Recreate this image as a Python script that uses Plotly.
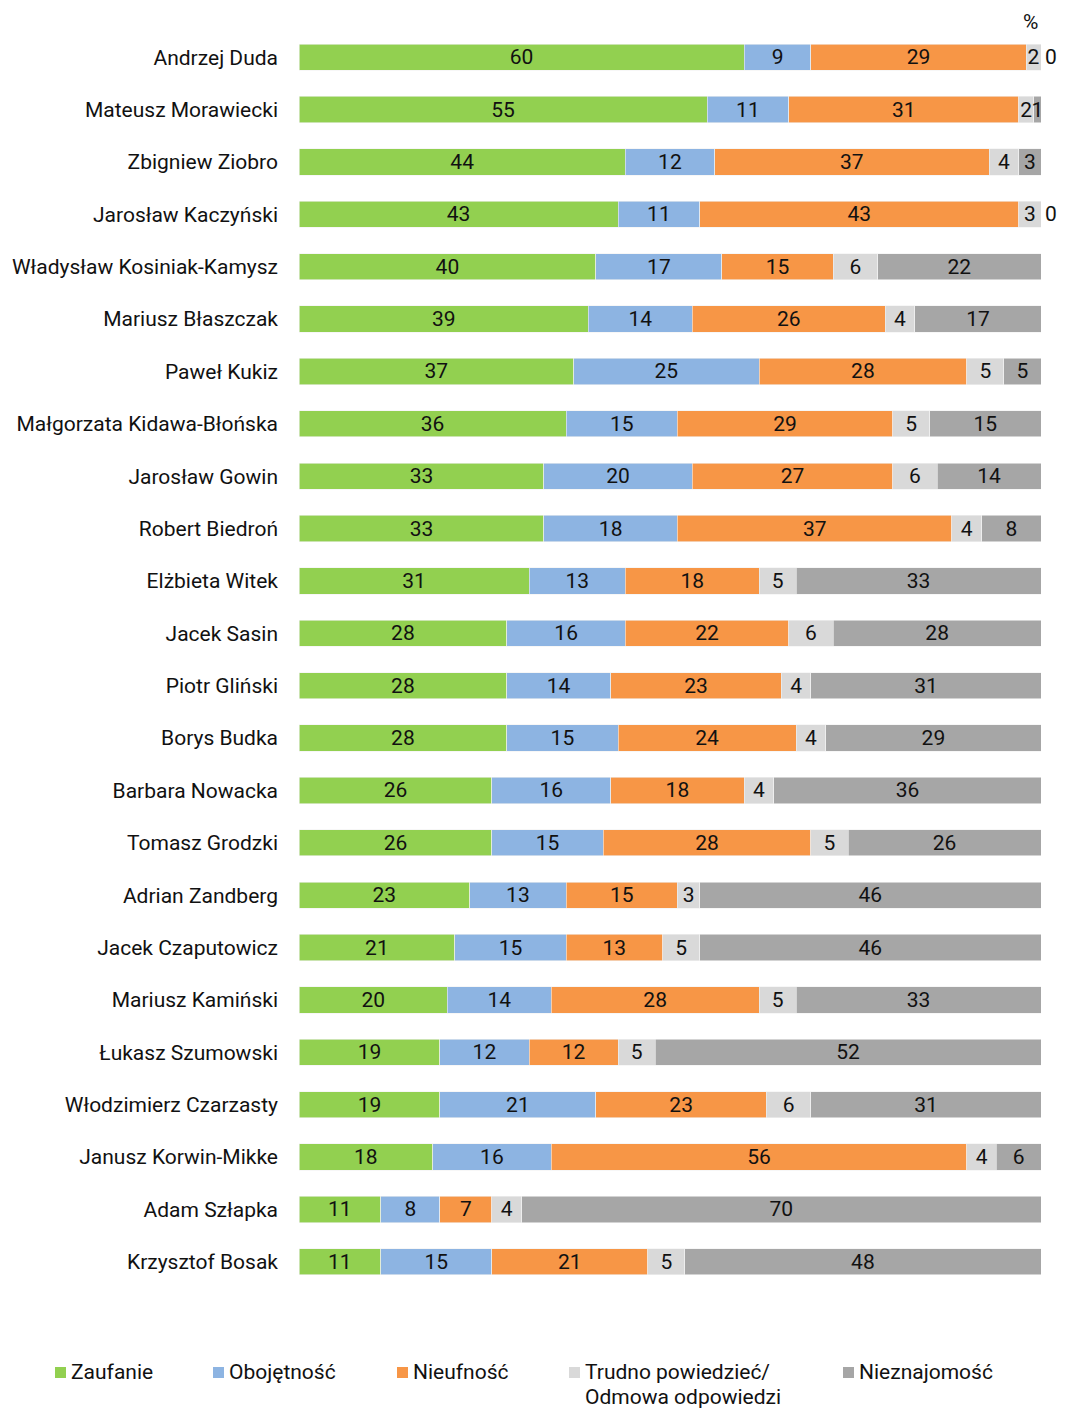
import plotly.graph_objects as go

names = ["Andrzej Duda", "Mateusz Morawiecki", "Zbigniew Ziobro", "Jarosław Kaczyński",
         "Władysław Kosiniak-Kamysz", "Mariusz Błaszczak", "Paweł Kukiz",
         "Małgorzata Kidawa-Błońska", "Jarosław Gowin", "Robert Biedroń", "Elżbieta Witek",
         "Jacek Sasin", "Piotr Gliński", "Borys Budka", "Barbara Nowacka", "Tomasz Grodzki",
         "Adrian Zandberg", "Jacek Czaputowicz", "Mariusz Kamiński", "Łukasz Szumowski",
         "Włodzimierz Czarzasty", "Janusz Korwin-Mikke", "Adam Szłapka", "Krzysztof Bosak"]
zaufanie = [60, 55, 44, 43, 40, 39, 37, 36, 33, 33, 31, 28, 28, 28, 26, 26, 23, 21, 20, 19, 19, 18, 11, 11]
obojetnosc = [9, 11, 12, 11, 17, 14, 25, 15, 20, 18, 13, 16, 14, 15, 16, 15, 13, 15, 14, 12, 21, 16, 8, 15]
nieufnosc = [29, 31, 37, 43, 15, 26, 28, 29, 27, 37, 18, 22, 23, 24, 18, 28, 15, 13, 28, 12, 23, 56, 7, 21]
trudno = [2, 2, 4, 3, 6, 4, 5, 5, 6, 4, 5, 6, 4, 4, 4, 5, 3, 5, 5, 5, 6, 4, 4, 5]
nieznajomosc = [0, 1, 3, 0, 22, 17, 5, 15, 14, 8, 33, 28, 31, 29, 36, 26, 46, 46, 33, 52, 31, 6, 70, 48]

series = [
    (["Zaufanie"], zaufanie, "#92D050"),
    (["Obojętność"], obojetnosc, "#8DB4E2"),
    (["Nieufność"], nieufnosc, "#F79646"),
    (["Trudno powiedzieć/", "Odmowa odpowiedzi"], trudno, "#D9D9D9"),
    (["Nieznajomość"], nieznajomosc, "#A6A6A6"),
]

OFF = 8  # page body margin
W, H = 1065 - OFF, 1409 - OFF
ML, MR, MT, MB = 299 - OFF, 1065 - 1041, 31 - OFF, 1409 - 1288
PW, PH = W - ML - MR, H - MT - MB
FONT = "Roboto"
FS = 21
TXT = "#111111"

fig = go.Figure()
for i, (nm, vals, col) in enumerate(series):
    last = i == len(series) - 1
    texts = [("" if v == 0 else str(v)) for v in vals]
    fig.add_trace(go.Bar(
        y=names, x=vals, name=" ".join(nm), orientation="h",
        marker=dict(color=col, line=dict(width=0.6, color="#F2F2F2")),
        text=texts, textposition="inside", insidetextanchor="middle",
        textangle=0, constraintext="none",
        textfont=dict(family=FONT, size=FS, color=TXT),
        showlegend=False, hoverinfo="skip",
    ))
    if last:
        for n, v, a, b, c, d in zip(names, vals, zaufanie, obojetnosc, nieufnosc, trudno):
            if v == 0:
                fig.add_annotation(x=a + b + c + d + v, y=n, xref="x", yref="y",
                                   text=str(v), showarrow=False, xanchor="left",
                                   xshift=2, font=dict(family=FONT, size=FS, color=TXT))

fig.update_layout(
    barmode="stack", bargap=0.5,
    width=W, height=H,
    margin=dict(l=ML, r=MR, t=MT, b=MB, autoexpand=False),
    paper_bgcolor="white", plot_bgcolor="white",
    font=dict(family=FONT, size=FS, color=TXT),
    xaxis=dict(range=[0, 100], visible=False, fixedrange=True, automargin=False),
    yaxis=dict(autorange="reversed", showgrid=False, zeroline=False, showline=False,
               automargin=False,
               ticks="", ticklabelstandoff=20, tickfont=dict(family=FONT, size=FS, color=TXT)),
)

def px(x):
    return (x - OFF - ML) / PW

def py(y):
    return (H - MB - (y - OFF)) / PH

fig.add_annotation(x=px(1030), y=py(22), xref="paper", yref="paper", text="%",
                   showarrow=False, font=dict(family=FONT, size=FS, color=TXT),
                   xanchor="center", yanchor="middle")

leg_x = [55, 213, 397, 569, 843]
line_y = [1372, 1397]
for (nm, vals, col), lx in zip(series, leg_x):
    fig.add_shape(type="rect", xref="paper", yref="paper",
                  x0=px(lx), x1=px(lx + 11), y0=py(1367), y1=py(1378),
                  fillcolor=col, line=dict(width=0))
    for line, ly in zip(nm, line_y):
        fig.add_annotation(x=px(lx + 14), y=py(ly), xref="paper", yref="paper",
                           text=line, showarrow=False, align="left",
                           xanchor="left", yanchor="middle",
                           font=dict(family=FONT, size=FS, color=TXT))

fig.write_html("out.html")
